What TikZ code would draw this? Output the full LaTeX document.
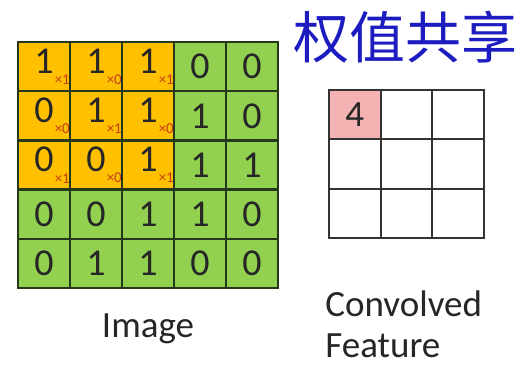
\documentclass[tikz,border=0pt]{standalone}
\usepackage{fontspec}
\setsansfont{Carlito}
\newfontfamily\cjkfont{Noto Sans CJK SC}
\usetikzlibrary{positioning}
\definecolor{patchorange}{RGB}{255,192,0}
\definecolor{pixgreen}{RGB}{146,208,80}
\definecolor{gridline}{RGB}{38,56,28}
\definecolor{weightred}{RGB}{196,62,24}
\definecolor{titleblue}{RGB}{28,28,192}
\definecolor{featpink}{RGB}{244,178,178}
% kernel weight hanging below right of a pixel value
\newcommand{\wt}[1]{\rlap{\kern0.03em\raisebox{-0.3em}{\fontsize{7.5}{7.5}\selectfont\color{weightred}×#1}}}

\begin{document}
\begin{tikzpicture}[x=0.5pt,y=-0.5pt,
        pix/.style={rectangle,draw=gridline,fill=pixgreen,line width=1.2pt,
          minimum width=26pt,minimum height=24.6pt,inner sep=0pt,
          text=black!85,font=\sffamily\fontsize{19}{20}\selectfont},
        patch/.style={pix,fill=patchorange},
        feat/.style={rectangle,draw=black!80,line width=1pt,
          minimum width=25.85pt,minimum height=24.65pt,inner sep=0pt,
          text=black!85,font=\sffamily\fontsize{18.5}{20}\selectfont},
        caption/.style={inner sep=0pt,align=left,text=black!85,
          font=\sffamily\fontsize{18.5}{20.5}\selectfont}]
        \useasboundingbox (0,0) rectangle (524,365);
        % input image, 3x3 patch in the top left corner
        \foreach \vals [count=\r from 0] in {
            {1\wt1/patch,1\wt0/patch,1\wt1/patch,0/pix,0/pix},
            {0\wt0/patch,1\wt1/patch,1\wt0/patch,1/pix,0/pix},
            {0\wt1/patch,0\wt0/patch,1\wt1/patch,1/pix,1/pix},
            {0/pix,0/pix,1/pix,1/pix,0/pix},
            {0/pix,1/pix,1/pix,0/pix,0/pix}}
          \foreach \v/\s [count=\c from 0] in \vals
            \node[\s] (img-\r-\c) at ({44+52*\c},{66.6+49.2*\r}) {\v};
        % convolved feature map
        \foreach \r in {0,1,2}
          \foreach \c in {0,1,2}
            \node[feat] (feat-\r-\c) at ({354.8+51.7*\c},{114.6+49.3*\r}) {};
        \node[feat,fill=featpink] at (feat-0-0) {4};
        \node[text=titleblue,inner sep=0pt,font=\cjkfont\fontsize{28}{28}\selectfont]
          (title) at (405,37) {权值共享};
        \node[caption,anchor=base] (imglabel) at (148,337) {Image};
        \node[caption,text depth=0pt,anchor=base west] (featlabel) at (325,357) {Convolved\\Feature};
      \end{tikzpicture}
\end{document}
